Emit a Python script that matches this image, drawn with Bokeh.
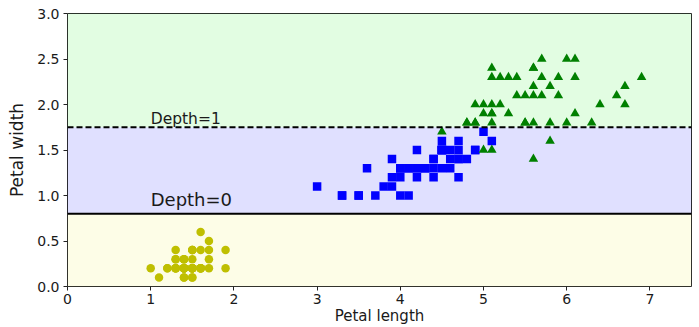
from bokeh.plotting import figure
from bokeh.models import FixedTicker, PrintfTickFormatter, Label
from bokeh.embed import file_html
from bokeh.resources import INLINE

# Iris petal measurements (length, width) by class, as seen in the chart
setosa_len = [1.4,1.4,1.3,1.5,1.4,1.7,1.4,1.5,1.4,1.5,1.5,1.6,1.4,1.1,1.2,1.5,1.3,1.4,1.7,1.5,
              1.7,1.5,1.0,1.7,1.9,1.6,1.6,1.5,1.4,1.6,1.6,1.5,1.5,1.4,1.5,1.2,1.3,1.4,1.3,1.5,
              1.3,1.3,1.3,1.6,1.9,1.4,1.6,1.4,1.5,1.4]
setosa_wid = [0.2,0.2,0.2,0.2,0.2,0.4,0.3,0.2,0.2,0.1,0.2,0.2,0.1,0.1,0.2,0.4,0.4,0.3,0.3,0.3,
              0.2,0.4,0.2,0.5,0.2,0.2,0.4,0.2,0.2,0.2,0.2,0.4,0.1,0.2,0.2,0.2,0.2,0.1,0.2,0.2,
              0.3,0.3,0.2,0.6,0.4,0.3,0.2,0.2,0.2,0.2]
versicolor_len = [4.7,4.5,4.9,4.0,4.6,4.5,4.7,3.3,4.6,3.9,3.5,4.2,4.0,4.7,3.6,4.4,4.5,4.1,4.5,3.9,
                  4.0,4.9,4.7,4.3,4.4,4.8,5.0,4.5,3.5,3.8,3.7,3.9,5.1,4.5,4.5,4.7,4.4,4.1,4.0,
                  4.4,4.6,4.0,3.3,4.2,4.2,4.2,4.3,3.0,4.1]
versicolor_wid = [1.4,1.5,1.5,1.3,1.5,1.3,1.6,1.0,1.3,1.4,1.0,1.5,1.0,1.4,1.3,1.4,1.5,1.0,1.5,1.1,
                  1.3,1.5,1.2,1.3,1.4,1.4,1.7,1.5,1.0,1.1,1.0,1.2,1.6,1.5,1.6,1.5,1.3,1.3,1.3,
                  1.2,1.4,1.2,1.0,1.3,1.2,1.3,1.3,1.1,1.3]
virginica_len = [6.0,5.1,5.9,5.6,5.8,6.6,4.5,6.3,5.8,6.1,5.1,5.3,5.5,5.0,5.1,5.3,5.5,6.7,6.9,5.0,
                 5.7,4.9,6.7,4.9,5.7,6.0,4.8,4.9,5.6,5.8,6.1,6.4,5.6,5.1,5.6,6.1,5.6,5.5,4.8,5.4,
                 5.6,5.1,5.1,5.9,5.7,5.2,5.0,5.2,5.4,5.1]
virginica_wid = [2.5,1.9,2.1,1.8,2.2,2.1,1.7,1.8,1.8,2.5,2.0,1.9,2.1,2.0,2.4,2.3,1.8,2.2,2.3,1.5,
                 2.3,2.0,2.0,1.8,2.1,1.8,1.8,1.8,2.1,1.6,1.9,2.0,2.2,1.5,1.4,2.3,2.4,1.8,1.8,2.1,
                 2.4,2.3,1.9,2.3,2.5,2.3,1.9,2.0,2.3,1.8]

# Decision regions (petal width thresholds)
region_bottom = [0.0, 0.8, 1.75]
region_top = [0.8, 1.75, 3.0]
region_colors = ["#fafab0", "#9898ff", "#a0faa0"]
thresholds = [0.8, 1.75]
depth_labels = ["Depth=0", "Depth=1"]
label_pos_x = [1.0, 1.0]
label_pos_y = [0.9, 1.8]
x_min, x_max = 0.0, 7.5
x_ticks = [0, 1, 2, 3, 4, 5, 6, 7]
y_ticks = [0.0, 0.5, 1.0, 1.5, 2.0, 2.5, 3.0]

FONT = "DejaVu Sans"
TXT = "#1a1a1a"

p = figure(width=699, height=327, output_backend="svg", toolbar_location=None,
           x_range=(x_min, x_max), y_range=(0, 3.0),
           min_border_left=67, min_border_right=8, min_border_top=13, min_border_bottom=39)
p.grid.visible = False
p.outline_line_color = "#222222"
p.outline_line_width = 1
p.background_fill_color = "white"
p.border_fill_color = "white"

p.quad(left=[x_min]*3, right=[x_max]*3, bottom=region_bottom, top=region_top,
       fill_color=region_colors, fill_alpha=0.3, line_color=None)

p.scatter(setosa_len, setosa_wid, marker="circle", size=8.5, fill_color="#bfbf00", line_color=None)
p.scatter(versicolor_len, versicolor_wid, marker="square", size=8.5, fill_color="#0000ff", line_color=None)
p.scatter(virginica_len, virginica_wid, marker="triangle", size=9.5, fill_color="#008000", line_color=None)

p.line([x_min, x_max], [thresholds[0]]*2, line_color="black", line_width=2)
p.line([x_min, x_max], [thresholds[1]]*2, line_color="black", line_width=2, line_dash="6 3")

p.add_layout(Label(x=label_pos_x[0], y=label_pos_y[0], text=depth_labels[0], text_font=FONT,
                   text_font_size="18px", text_color=TXT, text_baseline="bottom", y_offset=-5))
p.add_layout(Label(x=label_pos_x[1], y=label_pos_y[1], text=depth_labels[1], text_font=FONT,
                   text_font_size="15.5px", text_color=TXT, text_baseline="bottom", y_offset=-5))

for ax in (p.xaxis[0], p.yaxis[0]):
    ax.major_label_text_font = FONT
    ax.major_label_text_font_size = "14px"
    ax.major_label_text_color = TXT
    ax.axis_label_text_font = FONT
    ax.axis_label_text_font_style = "normal"
    ax.axis_label_text_color = TXT
    ax.minor_tick_line_color = None
    ax.major_tick_out = 4
    ax.major_tick_in = 0
    ax.axis_line_color = None
    ax.major_tick_line_color = "#222222"

p.xaxis.ticker = FixedTicker(ticks=x_ticks)
p.yaxis.ticker = FixedTicker(ticks=y_ticks)
p.yaxis.formatter = PrintfTickFormatter(format="%.1f")
p.xaxis.axis_label = "Petal length"
p.yaxis.axis_label = "Petal width"
p.xaxis.axis_label_text_font_size = "15px"
p.yaxis.axis_label_text_font_size = "17px"
p.xaxis.major_label_standoff = 3
p.yaxis.major_label_standoff = 4
p.xaxis.axis_label_standoff = 0
p.yaxis.axis_label_standoff = 7

open("out.html", "w").write(file_html(p, INLINE))
